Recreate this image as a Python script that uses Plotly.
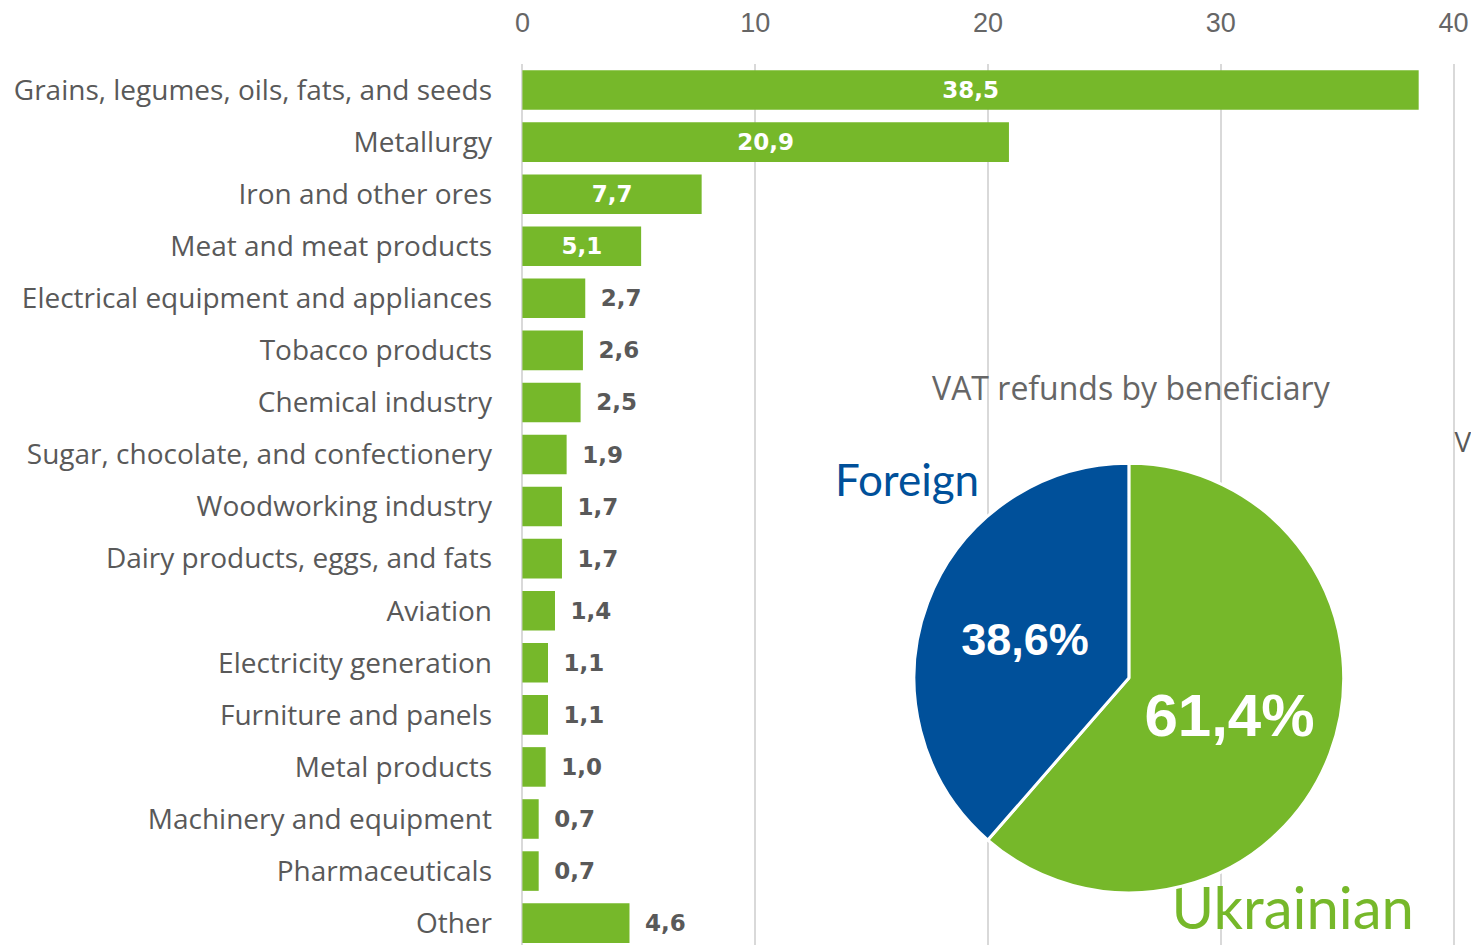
import plotly.graph_objects as go

categories = [
    "Grains, legumes, oils, fats, and seeds",
    "Metallurgy",
    "Iron and other ores",
    "Meat and meat products",
    "Electrical equipment and appliances",
    "Tobacco products",
    "Chemical industry",
    "Sugar, chocolate, and confectionery",
    "Woodworking industry",
    "Dairy products, eggs, and fats",
    "Aviation",
    "Electricity generation",
    "Furniture and panels",
    "Metal products",
    "Machinery and equipment",
    "Pharmaceuticals",
    "Other",
]
values = [38.5, 20.9, 7.7, 5.1, 2.7, 2.6, 2.5, 1.9, 1.7, 1.7, 1.4, 1.1, 1.1, 1.0, 0.7, 0.7, 4.6]
tick_values = [0, 10, 20, 30, 40]

pie_labels = ["Ukrainian", "Foreign"]
pie_values = [61.4, 38.6]

GREEN = "#76B82A"
BLUE = "#00509A"
GREY = "#595959"

W, H = 1471, 945
PL, PR, PT, PB = 520.6, 1455.4, 64, 945  # plot area in page px
PW, PH = PR - PL, PB - PT

positions = ["inside" if v > 5 else "outside" for v in values]
texts = [("%.1f" % v).replace(".", ",") for v in values]
texts = [t if p == "inside" else "\u00a0\u2009" + t for t, p in zip(texts, positions)]

fig = go.Figure()
fig.add_trace(go.Bar(
    y=categories, x=values, orientation="h",
    marker=dict(color=GREEN, line=dict(width=0)),
    width=0.76,
    text=texts, textposition=positions,
    insidetextanchor="middle",
    insidetextfont=dict(family="DejaVu Sans", size=23, color="white", weight="bold"),
    outsidetextfont=dict(family="DejaVu Sans", size=23, color=GREY, weight="bold"),
    textangle=0, cliponaxis=False,
    hoverinfo="skip", showlegend=False,
))


def px_x(sx):
    return (sx - PL) / PW


def px_y(sy):
    return (PB - sy) / PH


fig.add_trace(go.Pie(
    labels=pie_labels, values=pie_values,
    marker=dict(colors=[GREEN, BLUE], line=dict(color="white", width=3)),
    sort=False, direction="clockwise", rotation=0,
    texttemplate="%{percent:.1%}", textposition="inside",
    insidetextorientation="horizontal",
    textfont=dict(family="Liberation Sans", size=[60, 45], color="white", weight="bold"),
    domain=dict(x=[px_x(914), px_x(1344)], y=[px_y(893), px_y(463)]),
    showlegend=False, hoverinfo="skip",
))

# free-standing labels, placed on an invisible pixel-scaled overlay axis pair
label_texts = ["VAT refunds by beneficiary", "Foreign", "Ukrainian", "V"]
label_x = [1131, 907, 1293, 1455]
label_y = [392, 485, 914, 445]
label_pos = ["middle center", "middle center", "middle center", "middle right"]
label_fonts = [("Open Sans", 32, "#666666"), ("Lato", 44, BLUE), ("Lato", 58, GREEN), ("Open Sans", 28, GREY)]
for t, sx, sy, tp, (fam, sz, col) in zip(label_texts, label_x, label_y, label_pos, label_fonts):
    fig.add_trace(go.Scatter(
        x=[sx - PL], y=[PB - sy], mode="text", text=[t],
        textposition=tp,
        textfont=dict(family=fam, size=sz, color=col),
        xaxis="x2", yaxis="y2", cliponaxis=False,
        showlegend=False, hoverinfo="skip",
    ))

fig.update_layout(
    width=W, height=H,
    paper_bgcolor="white", plot_bgcolor="white",
    separators=", ",
    margin=dict(l=PL, r=W - PR, t=PT, b=H - PB),
    xaxis=dict(
        side="top", range=[-0.06, 40.06], tickvals=tick_values,
        showgrid=True, gridcolor="#D9D9D9", gridwidth=2,
        zeroline=True, zerolinecolor="#D9D9D9", zerolinewidth=2,
        showline=False, ticks="",
        tickfont=dict(family="Liberation Sans", size=27, color="#666666"),
        ticklabelstandoff=26,
    ),
    yaxis=dict(
        categoryorder="array", categoryarray=categories,
        range=[16.42, -0.5],
        showgrid=False, zeroline=False, showline=False, ticks="",
        tickfont=dict(family="Open Sans", size=28, color=GREY),
        ticklabelstandoff=28,
        automargin=False,
    ),
    xaxis2=dict(overlaying="x", anchor="y2", range=[0, PW], visible=False, fixedrange=True),
    yaxis2=dict(overlaying="y", anchor="x2", range=[0, PH], visible=False, fixedrange=True),
)

fig.write_html(
    "out.html",
    config={"displayModeBar": False, "staticPlot": True},
    post_script="document.body.style.margin='0';document.body.style.overflow='hidden';",
)
